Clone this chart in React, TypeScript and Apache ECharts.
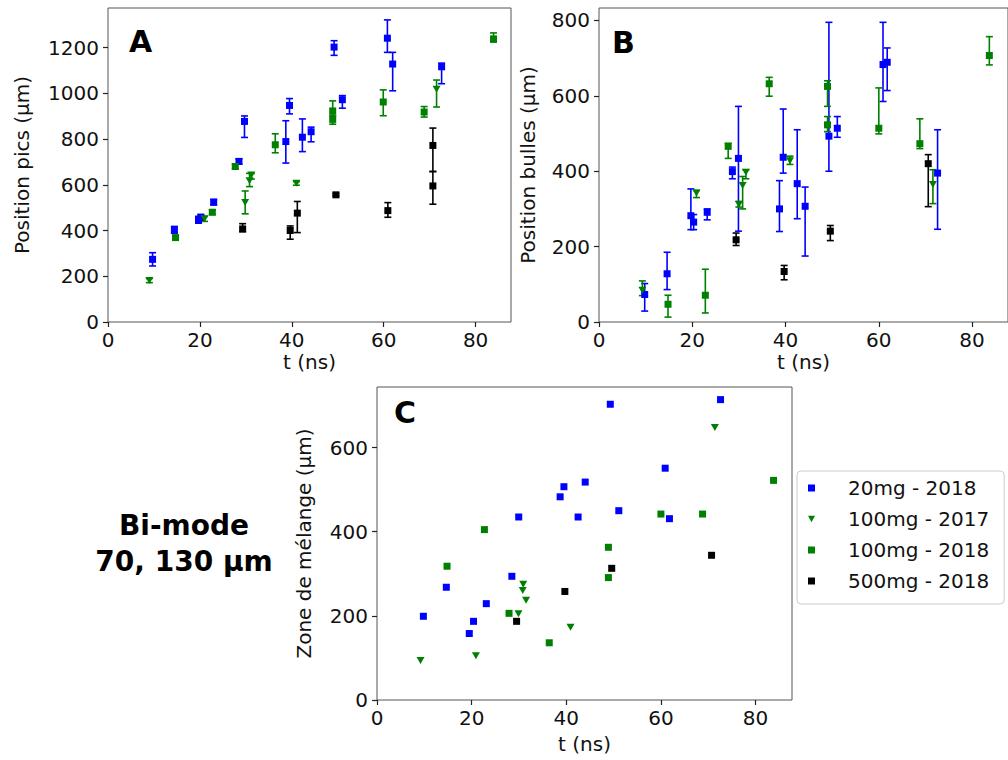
import React, { useEffect, useRef } from "react";
import * as echarts from "echarts";

// ---------- Data (t in ns, value, error low, error high) ----------
const seriesNames = ["20mg - 2018", "100mg - 2017", "100mg - 2018", "500mg - 2018"];
const seriesColors = ["#0000ff", "#008000", "#008000", "#000000"];
const xTicks = [0, 20, 40, 60, 80];
const yTicksA = [0, 200, 400, 600, 800, 1000, 1200];
const yTicksB = [0, 200, 400, 600, 800];
const yTicksC = [0, 200, 400, 600];

// Panel A : Position pics
const a20mg2018 = [
  [9.7, 274, 245, 303], [14.45, 403, 388, 418], [19.7, 446, 432, 462], [20.2, 458, 445, 470],
  [23.0, 524, 512, 536], [28.5, 702, 690, 714], [29.7, 877, 807, 901], [38.7, 789, 695, 880],
  [39.5, 947, 910, 977], [42.3, 808, 745, 888], [44.2, 832, 788, 852], [49.2, 1202, 1166, 1230],
  [51.0, 972, 935, 990], [60.8, 1241, 1179, 1321], [61.95, 1128, 1011, 1179], [72.6, 1116, 1042, 1132],
];
const a100mg2017 = [
  [9.0, 181, 172, 190], [21.0, 452, 440, 462], [29.85, 522, 473, 573], [30.8, 618, 592, 650],
  [31.2, 643, 625, 650], [41.0, 607, 598, 614], [71.5, 1018, 940, 1058],
];
const a100mg2018 = [
  [14.7, 369, 360, 378], [22.7, 480, 470, 490], [27.7, 680, 670, 690], [36.4, 775, 740, 823],
  [48.9, 923, 900, 967], [48.9, 886, 865, 905], [59.9, 962, 902, 1015], [68.8, 918, 896, 942],
  [83.9, 1238, 1224, 1264],
];
const a500mg2018 = [
  [29.3, 407, 395, 430], [39.65, 400, 362, 420], [41.2, 476, 391, 527], [49.6, 556, 550, 562],
  [60.9, 487, 458, 522], [70.7, 772, 658, 848], [70.7, 595, 515, 658],
];

// Panel B : Position bulles
const b20mg2018 = [
  [9.8, 73, 29, 102], [14.6, 128, 86, 185], [19.7, 282, 245, 353], [20.3, 265, 245, 285],
  [23.2, 291, 271, 300], [28.6, 399, 380, 411], [29.9, 434, 241, 572], [38.7, 300, 240, 375],
  [39.5, 437, 395, 565], [42.5, 367, 274, 510], [44.2, 307, 175, 358], [49.3, 493, 400, 795],
  [51.1, 514, 490, 545], [60.9, 683, 585, 795], [61.8, 689, 614, 727], [72.6, 395, 246, 510],
];
const b100mg2017 = [
  [9.3, 84, 70, 109], [20.9, 342, 330, 349], [30.0, 312, 305, 320], [30.8, 362, 300, 386],
  [31.5, 397, 380, 404], [40.95, 428, 418, 440], [71.6, 365, 314, 404],
];
const b100mg2018 = [
  [14.8, 47, 13, 71], [22.8, 71, 24, 140], [27.7, 466, 434, 474], [36.5, 632, 599, 649],
  [49.0, 625, 572, 640], [49.0, 523, 505, 545], [60.0, 514, 499, 621], [68.8, 473, 460, 539],
  [83.7, 707, 682, 757],
];
const b500mg2018 = [
  [29.4, 218, 203, 236], [39.7, 134, 112, 150], [49.6, 241, 216, 256], [70.6, 420, 306, 444],
];

// Panel C : Zone de mélange
const c20mg2018 = [
  [9.8, 199], [14.65, 268], [19.5, 158], [20.4, 187], [23.1, 229], [28.5, 294], [29.95, 435],
  [38.7, 483], [39.5, 507], [42.5, 435], [44.0, 518], [49.3, 703], [51.1, 450], [60.9, 551],
  [61.8, 431], [72.6, 714],
];
const c100mg2017 = [
  [9.2, 94], [20.9, 105], [29.9, 205], [30.9, 275], [30.8, 260], [31.5, 237], [40.9, 173], [71.4, 648],
];
const c100mg2018 = [
  [14.8, 318], [22.7, 405], [27.9, 206], [36.4, 136], [48.9, 363], [48.9, 291], [60.0, 442],
  [68.8, 442], [83.8, 522],
];
const c500mg2018 = [[29.5, 187], [39.7, 258], [49.6, 313], [70.7, 344]];

const FONT = "DejaVu Sans";

function errSeries(data: number[][], color: string, idx: number) {
  return {
    type: "custom",
    name: "err",
    xAxisIndex: idx,
    yAxisIndex: idx,
    data,
    encode: { x: 0, y: [1, 2, 3] },
    silent: true,
    renderItem: (_params: any, api: any) => {
      const x = api.value(0);
      const lo = api.value(2);
      const hi = api.value(3);
      const a = api.coord([x, hi]);
      const b = api.coord([x, lo]);
      const hw = 3.5;
      const style = { stroke: color, lineWidth: 1.6, fill: "none" };
      return {
        type: "group",
        children: [
          { type: "line", shape: { x1: a[0], y1: a[1], x2: b[0], y2: b[1] }, style },
          { type: "line", shape: { x1: a[0] - hw, y1: a[1], x2: a[0] + hw, y2: a[1] }, style },
          { type: "line", shape: { x1: b[0] - hw, y1: b[1], x2: b[0] + hw, y2: b[1] }, style },
        ],
      };
    },
  };
}

function markSeries(data: number[][], k: number, idx: number) {
  const tri = k === 1;
  return {
    type: "scatter",
    name: seriesNames[k],
    xAxisIndex: idx,
    yAxisIndex: idx,
    data: data.map((d) => [d[0], d[1]]),
    symbol: tri ? "triangle" : "rect",
    symbolRotate: tri ? 180 : 0,
    symbolSize: tri ? [8, 7] : 7,
    itemStyle: { color: seriesColors[k], opacity: 1 },
    emphasis: { disabled: true },
  };
}

function xAxis(idx: number, gap: number) {
  return {
    type: "value",
    gridIndex: idx,
    min: 0,
    max: 87.7,
    name: "t (ns)",
    nameLocation: "middle",
    nameGap: gap,
    nameTextStyle: { fontFamily: FONT, fontSize: 20, color: "#111" },
    axisLine: { show: false },
    axisTick: { show: true, length: 5, customValues: xTicks, lineStyle: { color: "#222", width: 1.2 } },
    axisLabel: { customValues: xTicks, formatter: (v: number) => String(v), fontFamily: FONT, fontSize: 20, color: "#111", margin: 8 },
    splitLine: { show: false },
  };
}

function yAxis(idx: number, max: number, ticks: number[], name: string, gap: number) {
  return {
    type: "value",
    gridIndex: idx,
    min: 0,
    max,
    name,
    nameLocation: "middle",
    nameGap: gap,
    nameTextStyle: { fontFamily: FONT, fontSize: 20, color: "#111" },
    axisLine: { show: false },
    axisTick: { show: true, length: 5, customValues: ticks, lineStyle: { color: "#222", width: 1.2 } },
    axisLabel: { customValues: ticks, formatter: (v: number) => String(v), fontFamily: FONT, fontSize: 20, color: "#111", margin: 9 },
    splitLine: { show: false },
  };
}

export default function App() {
  const ref = useRef<HTMLDivElement>(null);
  useEffect(() => {
    if (!ref.current) return;
    const chart = echarts.init(ref.current, null, { renderer: "svg" });
    const gridStyle = { show: true, borderColor: "#555", borderWidth: 1, backgroundColor: "transparent", containLabel: false };
    const panels = [
      [a20mg2018, a100mg2017, a100mg2018, a500mg2018],
      [b20mg2018, b100mg2017, b100mg2018, b500mg2018],
    ];
    const series: any[] = [];
    panels.forEach((p, idx) => {
      p.forEach((d, k) => {
        series.push(errSeries(d, seriesColors[k], idx));
        series.push(markSeries(d, k, idx));
      });
    });
    [c20mg2018, c100mg2017, c100mg2018, c500mg2018].forEach((d, k) => {
      series.push(markSeries(d, k, 2));
    });

    chart.setOption({
      animation: false,
      backgroundColor: "#fff",
      grid: [
        { ...gridStyle, left: 108, top: 8, width: 403, height: 314 },
        { ...gridStyle, left: 599, top: 8, width: 419, height: 314 },
        { ...gridStyle, left: 377, top: 387, width: 415, height: 313 },
      ],
      xAxis: [xAxis(0, 30), xAxis(1, 30), xAxis(2, 34)],
      yAxis: [
        yAxis(0, 1373, yTicksA, "Position pics (μm)", 76),
        yAxis(1, 833, yTicksB, "Position bulles (μm)", 61),
        yAxis(2, 744, yTicksC, "Zone de mélange (μm)", 63),
      ],
      legend: {
        orient: "vertical",
        left: 797,
        top: 471,
        padding: [6, 15, 12, 11],
        itemGap: 9,
        itemWidth: 7,
        itemHeight: 7,
        selectedMode: false,
        borderColor: "#ccc",
        borderWidth: 1,
        borderRadius: 4,
        backgroundColor: "#fff",
        textStyle: { fontFamily: FONT, fontSize: 20, color: "#111", lineHeight: 22, padding: [0, 0, 0, 28] },
        data: [
          { name: seriesNames[0], icon: "rect" },
          { name: seriesNames[1], icon: "path://M0,0L10,0L5,9Z" },
          { name: seriesNames[2], icon: "rect" },
          { name: seriesNames[3], icon: "rect" },
        ],
      },
      graphic: [
        { type: "text", x: 129, y: 41, style: { text: "A", fontFamily: FONT, fontWeight: "bold", fontSize: 30, fill: "#000", verticalAlign: "middle" } },
        { type: "text", x: 612, y: 42, style: { text: "B", fontFamily: FONT, fontWeight: "bold", fontSize: 30, fill: "#000", verticalAlign: "middle" } },
        { type: "text", x: 394, y: 412, style: { text: "C", fontFamily: FONT, fontWeight: "bold", fontSize: 30, fill: "#000", verticalAlign: "middle" } },
        {
          type: "text",
          x: 184,
          y: 543,
          style: {
            text: "Bi-mode\n70, 130 µm",
            fontFamily: FONT,
            fontWeight: "bold",
            fontSize: 28,
            lineHeight: 36,
            fill: "#000",
            align: "center",
            verticalAlign: "middle",
          },
        },
      ],
      series,
    });
    return () => chart.dispose();
  }, []);
  return <div ref={ref} style={{ position: "absolute", left: 0, top: 0, width: 1008, height: 760 }} />;
}
